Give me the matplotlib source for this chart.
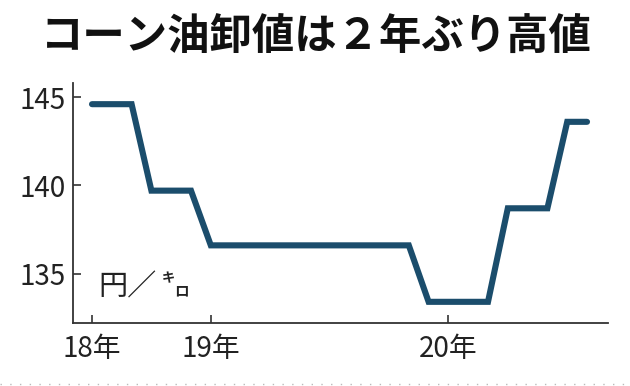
import matplotlib
matplotlib.use('Agg')
import matplotlib.pyplot as plt

plt.rcParams['font.family'] = ['Noto Sans CJK JP', 'DejaVu Sans']

# monthly wholesale price (yen/kg), month 0 = mid 2018
months = list(range(26))
prices = [144.6, 144.6, 144.6,
          139.7, 139.7, 139.7,
          136.6, 136.6, 136.6, 136.6, 136.6, 136.6, 136.6, 136.6, 136.6, 136.6, 136.6,
          133.4, 133.4, 133.4, 133.4,
          138.7, 138.7, 138.7,
          143.6, 143.6]
tick_months = [0, 6, 18]
tick_labels = ['18年', '19年', '20年']
y_ticks = [135, 140, 145]

fig = plt.figure(figsize=(6.3, 3.86), dpi=100)
ax = fig.add_axes([73 / 630, 1 - 323 / 386, 535 / 630, 240 / 386])

ax.plot(months, prices, color='#1b4d6c', lw=4.4, solid_joinstyle='miter',
        solid_capstyle='round')

ax.set_xlim(-0.96, 26.06)
ax.set_ylim(132.2, 145.8)
ax.set_xticks(tick_months)
ax.set_xticklabels(tick_labels)
ax.set_yticks(y_ticks)

for s in ['top', 'right']:
    ax.spines[s].set_visible(False)
for s in ['left', 'bottom']:
    ax.spines[s].set_color('#333333')
    ax.spines[s].set_linewidth(1.3)

ax.tick_params(axis='both', direction='in', length=6, width=1.2, color='#333333',
               labelsize=20, labelcolor='#222222')
ax.tick_params(axis='y', pad=5)
ax.tick_params(axis='x', pad=8)

# unit label
fig.text(98 / 630, 1 - 287 / 386, '円／', fontsize=21, color='#222222',
         va='center', ha='left')
fig.text(162 / 630, 1 - 278 / 386, 'キ', fontsize=9.5, color='#222222',
         va='center', ha='left', fontweight='bold')
fig.text(174 / 630, 1 - 290 / 386, 'ロ', fontsize=10.5, color='#222222',
         va='center', ha='left', fontweight='bold')

fig.text(316 / 630, 1 - 38 / 386, 'コーン油卸値は２年ぶり高値', fontsize=30.5,
         fontweight='bold', color='#111111', ha='center', va='center')

# dotted border bits from the source clipping
fig.add_artist(plt.Line2D([0, 1], [2 / 386, 2 / 386], color='#bbbbbb', lw=1,
                          ls=(0, (1, 6))))

fig.savefig('out.png', dpi=100)
